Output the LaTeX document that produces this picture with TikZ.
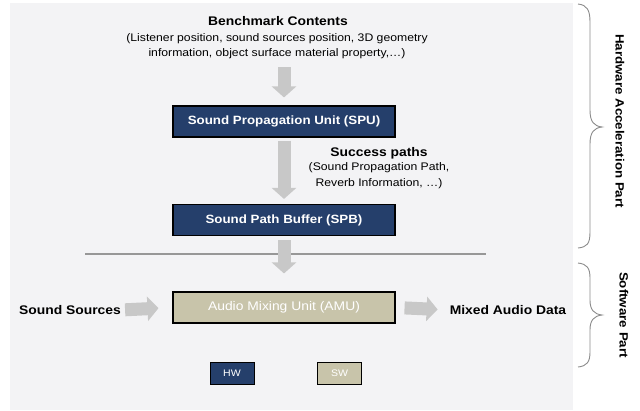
\documentclass[tikz,border=0pt]{standalone}
\usepackage{fontspec}
\setmainfont[FakeStretch=1.11]{Liberation Sans}
\usetikzlibrary{arrows.meta}
\definecolor{panelgray}{RGB}{243,243,245}
\definecolor{hwnavy}{RGB}{37,63,107}
\definecolor{swkhaki}{RGB}{200,196,170}
\definecolor{flowgray}{RGB}{200,200,200}
\definecolor{bracegray}{RGB}{140,140,140}
\tikzset{
  unitbox/.style={draw=black, line width=1.1pt, minimum width=222pt, minimum height=31pt, inner sep=0pt, text=white},
  hwbox/.style={unitbox, fill=hwnavy, font=\fontsize{12}{14}\selectfont\bfseries},
  swbox/.style={unitbox, fill=swkhaki, font=\fontsize{12.5}{14}\selectfont},
  keybox/.style={draw=black, line width=0.9pt, minimum width=44pt, minimum height=22pt, inner sep=0pt, text=white, font=\fontsize{9.5}{10}\selectfont},
  title/.style={font=\fontsize{12.5}{14}\selectfont\bfseries, inner sep=0pt},
  note/.style={font=\fontsize{11}{15.5}\selectfont, align=center, inner sep=0pt},
  flowdown/.style={draw=flowgray, line width=13pt, -{Triangle[length=11pt,width=24pt]}},
  brace/.style={draw=bracegray, line width=0.9pt},
  sidelabel/.style={font=\fontsize{12}{14}\selectfont\bfseries, rotate=-90, inner sep=0pt}
}
\begin{document}
\begin{tikzpicture}[x=1pt, y=-1pt]
  \useasboundingbox (0,0) rectangle (640,410);
  \fill[white] (0,0) rectangle (640,410);
  \fill[panelgray] (10,3) rectangle (573,410);

  % input description
  \node[title] (bench) at (278,21) {Benchmark Contents};
  \node[note] (benchsub) at (277,46) {(Listener position, sound sources position, 3D geometry\\information, object surface material property,\ldots)};

  % hardware units
  \node[hwbox] (spu) at (284,121.5) {Sound Propagation Unit (SPU)};
  \node[hwbox] (spb) at (284,220) {Sound Path Buffer (SPB)};

  % software unit
  \node[swbox] (amu) at (284,307.5) {Audio Mixing Unit (AMU)};

  % labels beside the flow
  \node[title] (succ) at (379,153) {Success paths};
  \node[note] (succsub) at (379,175.5) {(Sound Propagation Path,\\Reverb Information, \ldots)};
  \node[title] (src) at (70,310) {Sound Sources};
  \node[title] (mixed) at (508,310) {Mixed Audio Data};

  % hardware / software boundary
  \draw[draw=bracegray!90, line width=2pt] (85,254) -- (486,254);

  % block arrows of the data flow
  \draw[flowdown, shorten <=8pt, shorten >=8pt] (benchsub.south -| spu.north) -- (spu.north);
  \draw[flowdown, shorten <=3pt, shorten >=5pt] (spu.south) -- (spb.north);
  \draw[flowdown, shorten <=4pt, shorten >=18pt] (spb.south) -- (amu.north);
  \draw[flowdown, shorten <=4pt, shorten >=14pt] (src.east) -- (amu.west);
  \draw[flowdown, shorten <=9pt, shorten >=12pt] (amu.east) -- (mixed.west);

  % legend
  \node[keybox, fill=hwnavy] (hw) at (232,373) {HW};
  \node[keybox, fill=swkhaki] (sw) at (339.5,373) {SW};

  % braces on the right
  \draw[brace] (578,4) .. controls (587,5) and (590,10) .. (590,22)
    -- (590,110) .. controls (590,122) and (594,126) .. (602,127)
    .. controls (594,128) and (590,132) .. (590,144)
    -- (590,232) .. controls (590,244) and (587,247) .. (578,248);
  \draw[brace] (578,263) .. controls (587,264) and (590,268) .. (590,278)
    -- (590,300) .. controls (590,310) and (594,314) .. (602,315)
    .. controls (594,316) and (590,320) .. (590,330)
    -- (590,352) .. controls (590,362) and (587,366) .. (578,367);
  \node[sidelabel] (hwpart) at (620,121) {Hardware Acceleration Part};
  \node[sidelabel] (swpart) at (624,315) {Software Part};
\end{tikzpicture}
\end{document}
